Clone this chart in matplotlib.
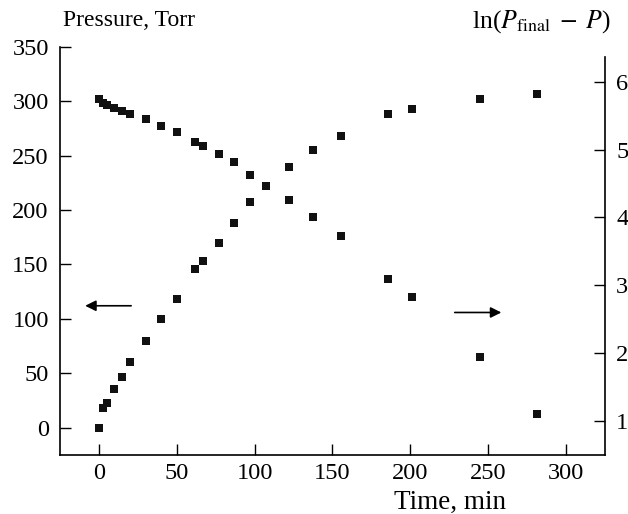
import numpy as np
import matplotlib
matplotlib.use("Agg")
import matplotlib.pyplot as plt

plt.rcParams['font.family'] = ['Liberation Serif', 'DejaVu Serif']
plt.rcParams['mathtext.fontset'] = 'stix'
plt.rcParams['font.size'] = 17.6

# time, min (same for both series)
t = [0, 2.8, 5, 9.6, 14.8, 20, 30, 40, 50, 62, 67, 77, 87, 97, 107, 122,
     137.6, 155.6, 185.4, 201, 244.8, 281.2]
# pressure, Torr (left axis)
pressure = [0, 18.4, 22.7, 35.3, 46.6, 60.1, 80, 99.6, 118.3, 145.9, 153.5,
            169.8, 187.9, 207.7, 222.4, 239.6, 255.5, 268.1, 288, 292.6,
            302.1, 306.4]
# ln(P_final - P) (right axis)
ln_diff = [5.74, 5.68, 5.66, 5.62, 5.57, 5.53, 5.45, 5.35, 5.26, 5.11, 5.06,
           4.94, 4.81, 4.63, 4.47, 4.26, 4.00, 3.72, 3.09, 2.83, 1.95, 1.11]

left_ticks = [0, 50, 100, 150, 200, 250, 300, 350]
right_ticks = [1, 2, 3, 4, 5, 6]
x_ticks = [0, 50, 100, 150, 200, 250, 300]

fig = plt.figure(figsize=(6.28, 5.14), dpi=100)
ax = fig.add_axes([0.0955, 0.1148, 0.8679, 0.7943])
ax2 = ax.twinx()

mk = dict(marker='s', ms=5.8, ls='none', color='#111111', mew=0)
ax.plot(t, pressure, **mk)
ax2.plot(t, ln_diff, **mk)

ax.set_xlim(-25, 325)
ax.set_ylim(-25.1, 350)
ax2.set_ylim(0.5, 6.516)

ax.set_xticks(x_ticks)
ax.set_yticks(left_ticks)
ax2.set_yticks(right_ticks)

for a in (ax, ax2):
    a.spines['top'].set_visible(False)
    a.tick_params(direction='in', length=8, width=1, pad=8, labelsize=17.6)
    for s in a.spines.values():
        s.set_linewidth(1.2)
ax.tick_params(axis='x', pad=6)
ax.spines['right'].set_visible(False)
ax2.spines['left'].set_visible(False)
ax2.spines['bottom'].set_visible(False)
ax2.spines['right'].set_bounds(0.5, 6.36)

# arrows pointing to the axes
ax.annotate('', xy=(-10.6, 112), xytext=(22.5, 112),
            arrowprops=dict(arrowstyle='-|>', color='black', lw=1.2,
                            mutation_scale=16))
ax2.annotate('', xy=(260.2, 2.60), xytext=(226.7, 2.60),
             arrowprops=dict(arrowstyle='-|>', color='black', lw=1.2,
                             mutation_scale=16))

fig.text(63 / 628, 1 - 20 / 514, 'Pressure, Torr', ha='left', va='center',
         fontsize=17)
fig.text(611 / 628, 1 - 22 / 514, r'ln($P_{\mathrm{final}}\;-\;P$)',
         ha='right', va='center', fontsize=18.5)
fig.text(450 / 628, 1 - 509 / 514, 'Time, min', ha='center', va='baseline',
         fontsize=19.5)

fig.savefig('out.png', dpi=100)
